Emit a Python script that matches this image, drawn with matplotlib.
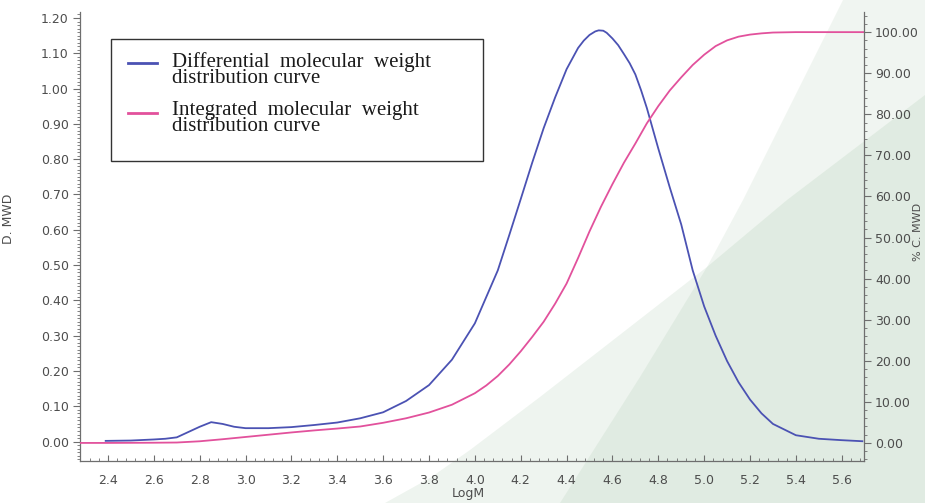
import numpy as np
import matplotlib.pyplot as plt
from matplotlib.patches import Polygon, Rectangle
from matplotlib.lines import Line2D
from matplotlib.ticker import MultipleLocator, FormatStrFormatter

# differential curve (left axis, D. MWD)
logm_diff = [2.39, 2.5, 2.6, 2.65, 2.7, 2.75, 2.8, 2.85, 2.9, 2.95, 3.0, 3.1, 3.2, 3.3,
             3.4, 3.5, 3.6, 3.7, 3.8, 3.9, 4.0, 4.1, 4.15, 4.2, 4.25, 4.3, 4.35, 4.4,
             4.45, 4.475, 4.5, 4.525, 4.54, 4.56, 4.575, 4.6, 4.625, 4.65, 4.675, 4.7,
             4.725, 4.75, 4.8, 4.85, 4.9, 4.95, 5.0, 5.05, 5.1, 5.15, 5.2, 5.25, 5.3,
             5.4, 5.5, 5.6, 5.69]
dmwd = [0.002, 0.003, 0.006, 0.008, 0.012, 0.027, 0.042, 0.055, 0.050, 0.042, 0.038,
        0.038, 0.041, 0.047, 0.054, 0.066, 0.083, 0.115, 0.160, 0.232, 0.335, 0.485,
        0.585, 0.687, 0.790, 0.888, 0.975, 1.055, 1.115, 1.136, 1.152, 1.162, 1.165,
        1.164, 1.158, 1.142, 1.123, 1.098, 1.072, 1.040, 0.995, 0.945, 0.830, 0.720,
        0.615, 0.485, 0.383, 0.300, 0.228, 0.168, 0.119, 0.080, 0.050, 0.018, 0.008,
        0.004, 0.001]

# integrated curve (right axis, %)
logm_int = [2.28, 2.4, 2.6, 2.7, 2.8, 2.9, 3.0, 3.1, 3.2, 3.3, 3.4, 3.5, 3.6, 3.7,
            3.8, 3.9, 4.0, 4.05, 4.1, 4.15, 4.2, 4.25, 4.3, 4.35, 4.4, 4.45, 4.5,
            4.55, 4.6, 4.65, 4.7, 4.75, 4.8, 4.85, 4.9, 4.95, 5.0, 5.05, 5.1, 5.15,
            5.2, 5.25, 5.3, 5.4, 5.7]
cum_pct = [0.0, 0.0, 0.05, 0.1, 0.4, 0.9, 1.45, 2.0, 2.55, 3.05, 3.5, 4.0, 4.9, 6.0,
           7.4, 9.3, 12.1, 14.0, 16.3, 19.1, 22.3, 25.8, 29.5, 33.9, 38.8, 45.0, 51.5,
           57.5, 63.0, 68.2, 72.9, 77.8, 82.0, 85.8, 89.0, 92.0, 94.5, 96.6, 98.0,
           98.9, 99.4, 99.7, 99.9, 100.0, 100.0]

x_ticks = [2.4, 2.6, 2.8, 3.0, 3.2, 3.4, 3.6, 3.8, 4.0, 4.2, 4.4, 4.6, 4.8, 5.0, 5.2, 5.4, 5.6]
left_ticks = [0.0, 0.1, 0.2, 0.3, 0.4, 0.5, 0.6, 0.7, 0.8, 0.9, 1.0, 1.1, 1.2]
right_ticks = [0, 10, 20, 30, 40, 50, 60, 70, 80, 90, 100]

blue = "#4b52b3"
pink = "#e2519c"
grey = "#6e6e6e"
txt = "#4d4d4d"

fig = plt.figure(figsize=(9.25, 5.03), dpi=100)

# green background wedges, in pixel coordinates
bg = fig.add_axes([0, 0, 1, 1], zorder=0)
bg.set_xlim(0, 925)
bg.set_ylim(503, 0)
bg.axis("off")
green = (0.28, 0.54, 0.31)
bg.add_patch(Polygon([(385, 503), (430, 478), (470, 450), (540, 397), (707, 267),
                      (787, 200), (925, 95), (925, 503)],
                     closed=True, facecolor=green, alpha=0.09, lw=0))
bg.add_patch(Polygon([(560, 503), (640, 377), (707, 267), (743, 200), (843, 0),
                      (925, 0), (925, 503)],
                     closed=True, facecolor=green, alpha=0.08, lw=0))

ax = fig.add_axes([80 / 925, 42 / 503, 784 / 925, 449 / 503], zorder=1)
ax.patch.set_alpha(0)
ax2 = ax.twinx()

ax.plot(logm_diff, dmwd, color=blue, lw=1.3)
ax2.plot(logm_int, cum_pct, color=pink, lw=1.3)

ax.set_xlim(2.278, 5.697)
ax.set_ylim(-0.055, 1.217)
ax2.set_ylim(-4.4, 104.9)

ax.set_xticks(x_ticks)
ax.set_yticks(left_ticks)
ax2.set_yticks(right_ticks)
ax.xaxis.set_minor_locator(MultipleLocator(0.04))
ax.yaxis.set_minor_locator(MultipleLocator(0.01))
ax2.yaxis.set_minor_locator(MultipleLocator(2))
ax.xaxis.set_major_formatter(FormatStrFormatter("%.1f"))
ax.yaxis.set_major_formatter(FormatStrFormatter("%.2f"))
ax2.yaxis.set_major_formatter(FormatStrFormatter("%.2f"))

for a in (ax, ax2):
    a.spines["top"].set_visible(False)
    for s in a.spines.values():
        s.set_color(grey)
        s.set_linewidth(0.9)
ax.spines["right"].set_visible(False)
ax2.spines["left"].set_visible(False)
ax2.spines["bottom"].set_visible(False)

ax.tick_params(axis="y", which="major", direction="out", length=5, width=0.8,
               color=grey, labelsize=9, labelcolor=txt, pad=3)
ax.tick_params(axis="y", which="minor", direction="out", length=2.5, width=0.6, color=grey)
ax.tick_params(axis="x", which="major", direction="in", length=4, width=0.8,
               color=grey, labelsize=9, labelcolor=txt, pad=9)
ax.tick_params(axis="x", which="minor", direction="in", length=2, width=0.6, color=grey)
ax2.tick_params(axis="y", which="major", direction="out", length=5, width=0.8,
                color=grey, labelsize=9, labelcolor=txt, pad=3)
ax2.tick_params(axis="y", which="minor", direction="out", length=2.5, width=0.6, color=grey)

ax.set_ylabel("D. MWD", fontsize=9, color=txt)
ax.yaxis.set_label_coords(-0.083, 0.54)
ax.set_xlabel("LogM", fontsize=9, color=txt)
ax.xaxis.set_label_coords(0.495, -0.058)
fig.text(918 / 925, 1 - 232 / 503, "% C. MWD", rotation=90, fontsize=8, color=txt,
         ha="center", va="center")

# legend box drawn by hand
bg.add_patch(Rectangle((111, 39), 372, 122, facecolor="white", edgecolor="#333333", lw=1))
bg.add_line(Line2D([128, 157], [63, 63], color=blue, lw=2))
bg.add_line(Line2D([128, 157], [113, 113], color=pink, lw=2))
serif = dict(family="Liberation Serif", fontsize=15, color="#1a1a1a", va="top",
             ha="left", linespacing=0.78)
bg.text(172, 52, "Differential  molecular  weight\ndistribution curve", **serif)
bg.text(172, 101, "Integrated  molecular  weight\ndistribution curve", **serif)

fig.savefig("out.png", dpi=100)
